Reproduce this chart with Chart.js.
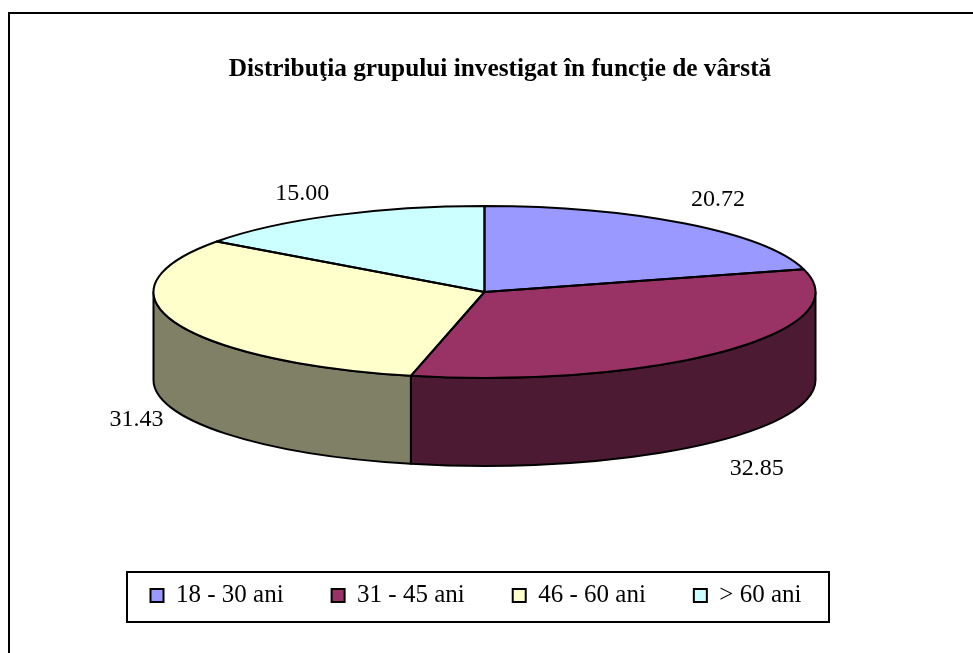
<!DOCTYPE html>
<html><head><meta charset="utf-8">
<style>html,body{margin:0;padding:0;background:#fff}canvas{display:block}</style>
<script src="https://cdn.jsdelivr.net/npm/chart.js@4"></script>
</head><body><canvas id="c" width="973" height="653"></canvas>
<script>
const categories = ['18 - 30 ani','31 - 45 ani','46 - 60 ani','> 60 ani'];
const values = [20.72,32.85,31.43,15.00];
const topColors = ['#9999FF','#993366','#FFFFCC','#CCFFFF'];
const sideColors = ['#4D4D80','#4D1A33','#808066','#668080'];
const chartTitle = 'Distribuţia grupului investigat în funcţie de vârstă';

const serif = '"Liberation Serif","Times New Roman",serif';
const center = {x:484.5,y:292}, radiusX = 331, radiusY = 86, depth = 88;
const labelOffsets = [[33,-24],[33,29],[-38,9],[-32,-22]];
const labelDepth = [0,1,1,0];

const pie3d = {
  id:'pie3d',
  afterLayout(chart){
    const t = chart.titleBlock, l = chart.legend;
    const tdx = 500 - (t.left+t.right)/2; t.left += tdx; t.right += tdx;
    t.top = 54; t.bottom = t.top + t.height;
    const ldx = 476 - (l.left+l.right)/2; l.left += ldx; l.right += ldx;
    l.top = 535; l.bottom = l.top + l.height;
  },
  beforeDraw(chart){
    const c = chart.ctx;
    c.save();
    c.strokeStyle='#000'; c.lineWidth=2;
    c.strokeRect(9,13,1100,800);
    c.fillStyle='#fff';
    c.fillRect(127,572,702,50);
    c.strokeRect(127,572,702,50);
    c.restore();
  },
  beforeDatasetsDraw(chart){
    const c = chart.ctx, arcs = chart.getDatasetMeta(0).data;
    c.save();
    c.lineWidth = 2; c.strokeStyle='#000'; c.lineJoin='round';
    arcs.forEach((a,i)=>{
      const s = Math.max(a.startAngle,0), e = Math.min(a.endAngle,Math.PI);
      if(e<=s) return;
      c.beginPath();
      c.ellipse(center.x,center.y,radiusX,radiusY,0,s,e);
      c.lineTo(center.x+radiusX*Math.cos(e),center.y+radiusY*Math.sin(e)+depth);
      c.ellipse(center.x,center.y+depth,radiusX,radiusY,0,e,s,true);
      c.closePath();
      c.fillStyle = sideColors[i];
      c.fill(); c.stroke();
    });
    c.restore();
    const a0 = arcs[0];
    c.save();
    c.translate(center.x,center.y);
    c.scale(1,radiusY/radiusX);
    c.translate(-a0.x,-a0.y);
  },
  afterDatasetsDraw(chart){
    const c = chart.ctx, arcs = chart.getDatasetMeta(0).data;
    c.restore();
    c.save();
    c.lineWidth = 2; c.strokeStyle='#000'; c.lineJoin='round';
    arcs.forEach(a=>{
      c.beginPath();
      c.moveTo(center.x,center.y);
      c.ellipse(center.x,center.y,radiusX,radiusY,0,a.startAngle,a.endAngle);
      c.closePath();
      c.stroke();
    });
    c.fillStyle='#000';
    c.font='24px '+serif;
    c.textAlign='center'; c.textBaseline='middle';
    arcs.forEach((a,i)=>{
      const m=(a.startAngle+a.endAngle)/2;
      const x=center.x+radiusX*Math.cos(m)+labelOffsets[i][0];
      const y=center.y+radiusY*Math.sin(m)+depth*labelDepth[i]+labelOffsets[i][1];
      c.fillText(values[i].toFixed(2),x,y);
    });
    c.restore();
  }
};

new Chart(document.getElementById('c'),{
  type:'pie',
  data:{labels:categories,datasets:[{data:values,backgroundColor:topColors,borderWidth:0,radius:radiusX,clip:false}]},
  options:{
    responsive:false,animation:false,
    plugins:{
      tooltip:{enabled:false},
      title:{display:true,text:chartTitle,color:'#000',font:{family:serif,size:25.3,weight:'bold'},padding:0},
      legend:{position:'bottom',labels:{
        color:'#000',font:{family:serif,size:25},boxWidth:13,boxHeight:13,padding:48,
        generateLabels(chart){
          return categories.map((t,i)=>({text:t,fillStyle:topColors[i],strokeStyle:'#000',lineWidth:2,index:i,hidden:false}));
        }
      }}
    }
  },
  plugins:[pie3d]
});
</script></body></html>
